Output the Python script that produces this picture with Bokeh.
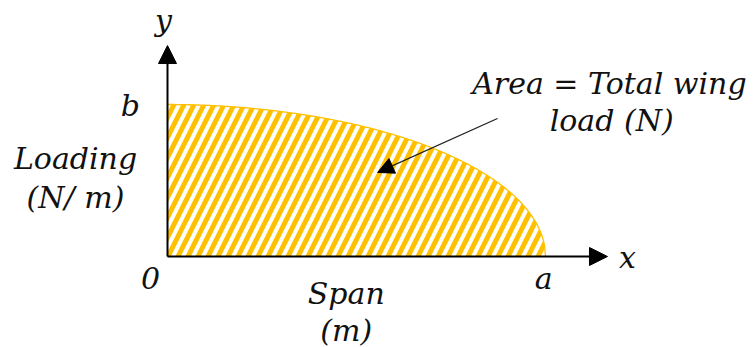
import numpy as np
from bokeh.plotting import figure
from bokeh.models import Range1d, Arrow, NormalHead, ColumnDataSource
from bokeh.core.properties import value
from bokeh.embed import file_html
from bokeh.resources import INLINE

# --- data: elliptical lift distribution over the semi-span ---
a = 1.0            # semi-span (x where loading drops to zero)
b = 1.0            # root loading (y at x = 0)
span_x = np.linspace(0.0, a, 400)
loading = b * np.sqrt(np.clip(1.0 - (span_x / a) ** 2, 0, None))

axis_labels = ["x", "y"]
tick_labels = ["0", "a", "b"]
text_labels = ["Loading", "(N/ m)", "Span", "(m)", "Area = Total wing", "load (N)"]

W, H = 753, 347
p = figure(width=W, height=H, output_backend="svg", toolbar_location=None,
           x_range=Range1d(-0.4418, 1.5503), y_range=Range1d(-0.5987, 1.6842),
           min_border=0)
p.axis.visible = False
p.grid.visible = False
p.outline_line_color = None
p.background_fill_color = "white"
p.border_fill_color = "white"

ORANGE = "#FFC000"

# hatched area under the curve
p.varea(x=span_x, y1=np.zeros_like(span_x), y2=loading, fill_alpha=0,
        hatch_pattern="/", hatch_color=ORANGE, hatch_scale=20, hatch_weight=5)
p.line(span_x, loading, line_color=ORANGE, line_width=1.3)

# axes with arrows
p.add_layout(Arrow(end=NormalHead(size=18, fill_color="black", line_color="black"),
                   x_start=0, y_start=0, x_end=1.164 * a, y_end=0,
                   line_color="black", line_width=2))
p.add_layout(Arrow(end=NormalHead(size=18, fill_color="black", line_color="black"),
                   x_start=0, y_start=0, x_end=0, y_end=1.388 * b,
                   line_color="black", line_width=2))

# annotation arrow pointing into the area
p.add_layout(Arrow(end=NormalHead(size=16, fill_color="black", line_color="black"),
                   x_start=0.873, y_start=0.908, x_end=0.556, y_end=0.553,
                   line_color="#222222", line_width=1.3))

dy = 0.066
src = ColumnDataSource(dict(
    x=[1.217 * a, -0.0106, -0.045, a - 0.005, -0.098, -0.2434, -0.2434, 0.473, 0.473, 1.169, 1.175],
    y=[v + dy for v in [-0.072, 1.487 * b, -0.2105, -0.2105, 0.928 * b, 0.579, 0.322, -0.309, -0.552, 1.072, 0.829]],
    t=axis_labels + tick_labels + text_labels,
))
p.text(x="x", y="y", text="t", source=src, text_align="center",
       text_baseline="alphabetic", text_font=value("DejaVu Serif"),
       text_font_style="italic", text_font_size="30px", text_color="#111111")

open("out.html", "w").write(file_html(p, INLINE))
